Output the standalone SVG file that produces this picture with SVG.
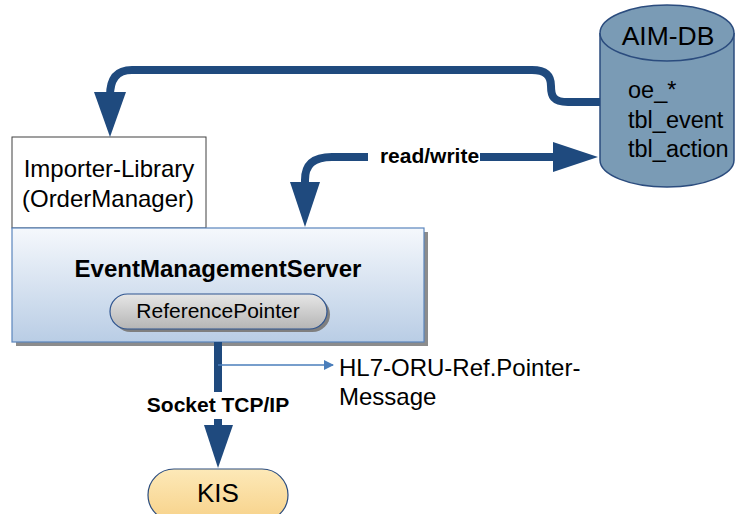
<svg xmlns="http://www.w3.org/2000/svg" width="735" height="514" viewBox="0 0 735 514">
<defs>
<linearGradient id="emsGrad" x1="0" y1="0" x2="0" y2="1">
<stop offset="0" stop-color="#f5f8fc"/>
<stop offset="1" stop-color="#b9cde5"/>
</linearGradient>
<linearGradient id="pillGrad" x1="0" y1="0" x2="0" y2="1">
<stop offset="0" stop-color="#e6e6e6"/>
<stop offset="1" stop-color="#b5b5b5"/>
</linearGradient>
<linearGradient id="kisGrad" x1="0" y1="0" x2="0" y2="1">
<stop offset="0" stop-color="#fde9b8"/>
<stop offset="1" stop-color="#f7d28a"/>
</linearGradient>
<marker id="thinArrow" markerWidth="10" markerHeight="10" refX="9" refY="5" orient="auto" markerUnits="userSpaceOnUse">
<polygon points="0,0 10,5 0,10" fill="#4a7ebb"/>
</marker>
</defs>
<style>
text{font-family:"Liberation Sans",Arial,sans-serif;fill:#000}
.t24{font-size:24px}
.bold{font-weight:bold}
.lbl{font-size:21px;font-weight:bold}
.conn{fill:none;stroke:#1f4a7e;stroke-width:8}
.head{fill:#1f4a7e}
</style>
<rect width="735" height="514" fill="#ffffff"/>

<g id="aim-db">
<path d="M600,33 V160 A67,27 0 0 0 734,160 V33" fill="#7a9bb5" stroke="#2b4c7e" stroke-width="1.5"/>
<ellipse cx="667" cy="33" rx="67" ry="28" fill="#7a9bb5" stroke="#2b4c7e" stroke-width="1.5"/>
<text x="668" y="45" text-anchor="middle" style="font-size:26.5px">AIM-DB</text>
<text x="628" y="98" style="font-size:23.5px">oe_*</text>
<text x="628" y="128" style="font-size:23.5px">tbl_event</text>
<text x="628" y="157" style="font-size:23.5px">tbl_action</text>
</g>

<g id="importer-library">
<rect x="12" y="137" width="194" height="91" fill="#ffffff" stroke="#404040" stroke-width="1"/>
<text x="109" y="177" class="t24" text-anchor="middle">Importer-Library</text>
<text x="108" y="207" class="t24" text-anchor="middle">(OrderManager)</text>
</g>

<g id="event-management-server">
<rect x="16" y="232" width="412" height="114" fill="#8c8c8c"/>
<rect x="12" y="228" width="412" height="114" fill="url(#emsGrad)" stroke="#5a85bd" stroke-width="1.2"/>
<text x="218" y="277" class="t24 bold" text-anchor="middle">EventManagementServer</text>
<g id="reference-pointer">
<rect x="113" y="297" width="217" height="35" rx="17.5" fill="#7f7f7f"/>
<rect x="110" y="294" width="217" height="35" rx="17.5" fill="url(#pillGrad)" stroke="#2f5590" stroke-width="1.2"/>
<text x="218" y="318" text-anchor="middle" style="font-size:21px">ReferencePointer</text>
</g>
</g>

<g id="kis">
<rect x="148" y="469" width="140" height="52" rx="26" fill="url(#kisGrad)" stroke="#2b4c7e" stroke-width="1.2"/>
<text x="218" y="502" text-anchor="middle" style="font-size:26px">KIS</text>
</g>

<g id="connectors">
<path class="conn" d="M600,102 H568 C553,102 551,96 551,86 C551,76 546,70 532,70 H132 C116,70 110,80 110,96"/>
<polygon class="head" points="94,92 126,92 110,137"/>
<path class="conn" d="M368,157 H332 C313,157 305,165 305,180 V184"/>
<polygon class="head" points="290,182 320,182 305,227"/>
<path class="conn" d="M480,157 H556"/>
<polygon class="head" points="553,142 553,172 598,157"/>
<text x="429.5" y="163" text-anchor="middle" class="lbl">read/write</text>
<path class="conn" d="M218,342 V392"/>
<path class="conn" d="M218,419 V428"/>
<polygon class="head" points="204,425 233,425 218,468"/>
<text x="218" y="412" text-anchor="middle" class="lbl">Socket TCP/IP</text>
<path d="M218,365 H333" fill="none" stroke="#4a7ebb" stroke-width="1.5" marker-end="url(#thinArrow)"/>
<text x="339" y="376" class="t24">HL7-ORU-Ref.Pointer-</text>
<text x="339" y="405" class="t24">Message</text>
</g>
</svg>
